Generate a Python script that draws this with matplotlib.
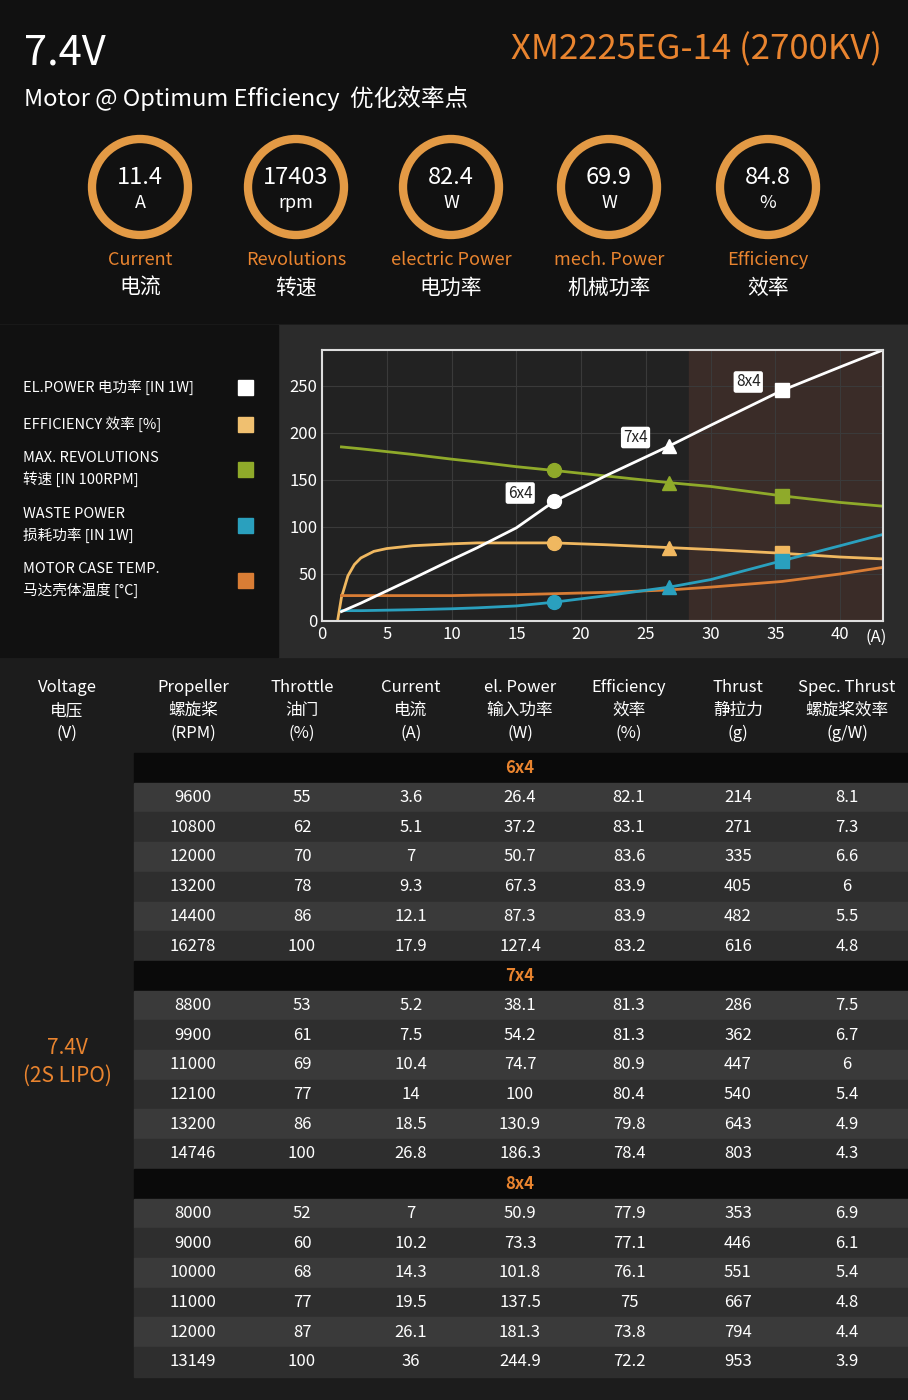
# Motor data sheet for XM2225EG-14 at 7.4V
import numpy as np
import matplotlib
matplotlib.use('Agg')
import matplotlib.pyplot as plt
from matplotlib.patches import Rectangle, Circle

plt.rcParams['font.family'] = ['Noto Sans CJK SC', 'DejaVu Sans']

ORANGE = '#e9842f'

# Optimum efficiency point
optimum = [('11.4', 'A', 'Current', '电流'), ('17403', 'rpm', 'Revolutions', '转速'),
           ('82.4', 'W', 'electric Power', '电功率'), ('69.9', 'W', 'mech. Power', '机械功率'),
           ('84.8', '%', 'Efficiency', '效率')]

# Test table: rpm, throttle, current, power, efficiency, thrust, spec thrust
props = {
    '6x4': [[9600, 55, 3.6, 26.4, 82.1, 214, 8.1], [10800, 62, 5.1, 37.2, 83.1, 271, 7.3],
            [12000, 70, 7, 50.7, 83.6, 335, 6.6], [13200, 78, 9.3, 67.3, 83.9, 405, 6],
            [14400, 86, 12.1, 87.3, 83.9, 482, 5.5], [16278, 100, 17.9, 127.4, 83.2, 616, 4.8]],
    '7x4': [[8800, 53, 5.2, 38.1, 81.3, 286, 7.5], [9900, 61, 7.5, 54.2, 81.3, 362, 6.7],
            [11000, 69, 10.4, 74.7, 80.9, 447, 6], [12100, 77, 14, 100, 80.4, 540, 5.4],
            [13200, 86, 18.5, 130.9, 79.8, 643, 4.9], [14746, 100, 26.8, 186.3, 78.4, 803, 4.3]],
    '8x4': [[8000, 52, 7, 50.9, 77.9, 353, 6.9], [9000, 60, 10.2, 73.3, 77.1, 446, 6.1],
            [10000, 68, 14.3, 101.8, 76.1, 551, 5.4], [11000, 77, 19.5, 137.5, 75, 667, 4.8],
            [12000, 87, 26.1, 181.3, 73.8, 794, 4.4], [13149, 100, 36, 244.9, 72.2, 953, 3.9]],
}

# Curves (current in A)
cur = [1.5, 3, 5, 7, 10, 12, 15, 17.9, 22, 26.8, 30, 35.5, 40, 43.3]
el_power = [10, 19, 32, 45, 65, 78, 99, 127, 155, 186, 208, 245, 270, 288]
revs = [185, 183, 180, 177, 172, 169, 164, 160, 154, 147, 143, 133, 126, 122]
waste = [11, 11, 11.5, 12, 13, 14, 16, 20, 27, 36, 44, 64, 80, 92]
temp = [27, 27, 27, 27, 27, 27.5, 28, 29, 30.5, 33, 36, 42, 50, 57]
eff_cur = [1.2, 1.5, 2, 2.5, 3, 4, 5, 7, 10, 12, 15, 17.9, 22, 26.8, 30, 35.5, 40, 43.3]
eff = [0, 25, 48, 60, 67, 74, 77, 80, 82, 83, 83, 83, 81, 78, 76, 72, 68, 66]

fig = plt.figure(figsize=(9.08, 14), dpi=100)
fig.patch.set_facecolor('#1c1c1c')
bg = fig.add_axes([0, 0, 1, 1])
bg.set_xlim(0, 908)
bg.set_ylim(1400, 0)
bg.axis('off')

# Header
bg.add_patch(Rectangle((0, 0), 908, 323, color='#111111'))
bg.text(24, 53, '7.4V', color='white', fontsize=30, va='center')
bg.text(882, 50, 'XM2225EG-14 (2700KV)', color=ORANGE, fontsize=25, va='center', ha='right')
bg.text(24, 98, 'Motor @ Optimum Efficiency  优化效率点', color='white', fontsize=17, va='center')
for i, (val, unit, en, cn) in enumerate(optimum):
    cx = [140, 296, 451, 609, 768][i]
    bg.add_patch(Circle((cx, 187), 48, fill=False, ec='#e39a45', lw=6))
    bg.text(cx, 178, val, color='white', fontsize=17, ha='center', va='center')
    bg.text(cx, 203, unit, color='white', fontsize=13, ha='center', va='center')
    bg.text(cx, 260, en, color=ORANGE, fontsize=13, ha='center', va='center')
    bg.text(cx, 288, cn, color='white', fontsize=15, ha='center', va='center')

# Chart section
bg.add_patch(Rectangle((0, 325), 908, 332, color='#2b2b2b'))
bg.add_patch(Rectangle((0, 325), 278, 332, color='#111111'))
legend = [('EL.POWER 电功率 [IN 1W]', 'white', 387), ('EFFICIENCY 效率 [%]', '#f0c070', 424),
          ('MAX. REVOLUTIONS\n转速 [IN 100RPM]', '#8faa2a', 469), ('WASTE POWER\n损耗功率 [IN 1W]', '#2aa0be', 525),
          ('MOTOR CASE TEMP.\n马达壳体温度 [°C]', '#d97d35', 580)]
for txt, col, y in legend:
    bg.text(23, y, txt, color='white', fontsize=10.5, va='center', linespacing=1.5)
    bg.add_patch(Rectangle((238, y - 7), 15, 15, color=col))

ax = fig.add_axes([322 / 908, 1 - 621 / 1400, 561 / 908, 271 / 1400])
ax.set_facecolor('#222222')
ax.axvspan(28.3, 43.3, color='#3a2c28')
ax.plot(cur, revs, color='#8faa2a', lw=2)
ax.plot(eff_cur, eff, color='#f0b860', lw=2)
ax.plot(cur, temp, color='#d97d35', lw=2)
ax.plot(cur, waste, color='#2aa0be', lw=2)
ax.plot(cur, el_power, color='white', lw=2)
xs = [17.9, 26.8, 35.5]
for k, m in enumerate(['o', '^', 's']):
    x = xs[k]
    for series, xx, col in [(revs, cur, '#8faa2a'), (eff, eff_cur, '#f0b860'),
                            (waste, cur, '#2aa0be'), (el_power, cur, 'white')]:
        ax.plot(x, np.interp(x, xx, series), marker=m, color=col, ms=10, ls='none')
for name, x, dy in [('6x4', 17.9, 127), ('7x4', 26.8, 186), ('8x4', 35.5, 245)]:
    ax.text(x - 2.6, dy + 9, name, fontsize=11, ha='center', va='center', color='#222222',
            bbox=dict(boxstyle='round,pad=0.15', fc='white', ec='none'))
ax.set_xlim(0, 43.3)
ax.set_ylim(0, 288)
ax.set_xticks(range(0, 41, 5))
ax.set_yticks(range(0, 251, 50))
ax.tick_params(colors='white', labelsize=12, length=0)
ax.grid(True, color='#3a3a3a', lw=0.8)
for s in ax.spines.values():
    s.set_color('#dddddd')
    s.set_linewidth(1.5)
bg.text(876, 637, '(A)', color='white', fontsize=12, ha='center', va='center')

# Table
bg.add_patch(Rectangle((0, 662), 908, 738, color='#1c1c1c'))
cols = [67, 193, 302, 411, 520, 629, 738, 847]
heads = [('Voltage', '电压', '(V)'), ('Propeller', '螺旋桨', '(RPM)'), ('Throttle', '油门', '(%)'),
         ('Current', '电流', '(A)'), ('el. Power', '输入功率', '(W)'), ('Efficiency', '效率', '(%)'),
         ('Thrust', '静拉力', '(g)'), ('Spec. Thrust', '螺旋桨效率', '(g/W)')]
for x, h in zip(cols, heads):
    for j, t in enumerate(h):
        bg.text(x, 688 + 22.5 * j, t, color='white', fontsize=12, ha='center', va='center')
rh = 29.7
y = 753
for name, rows in props.items():
    bg.add_patch(Rectangle((134, y), 774, rh, color='#0a0a0a'))
    bg.text(520, y + rh / 2, name, color=ORANGE, fontsize=12, weight='bold', ha='center', va='center')
    y += rh
    for i, r in enumerate(rows):
        bg.add_patch(Rectangle((134, y), 774, rh, color='#3a3a3a' if i % 2 == 0 else '#2e2e2e'))
        for x, v in zip(cols[1:], r):
            bg.text(x, y + rh / 2, f'{v:g}', color='white', fontsize=12, ha='center', va='center')
        y += rh
bg.text(67, 1062, '7.4V\n(2S LIPO)', color=ORANGE, fontsize=15, ha='center', va='center', linespacing=1.3)

fig.savefig('out.png', dpi=100, facecolor=fig.get_facecolor())
